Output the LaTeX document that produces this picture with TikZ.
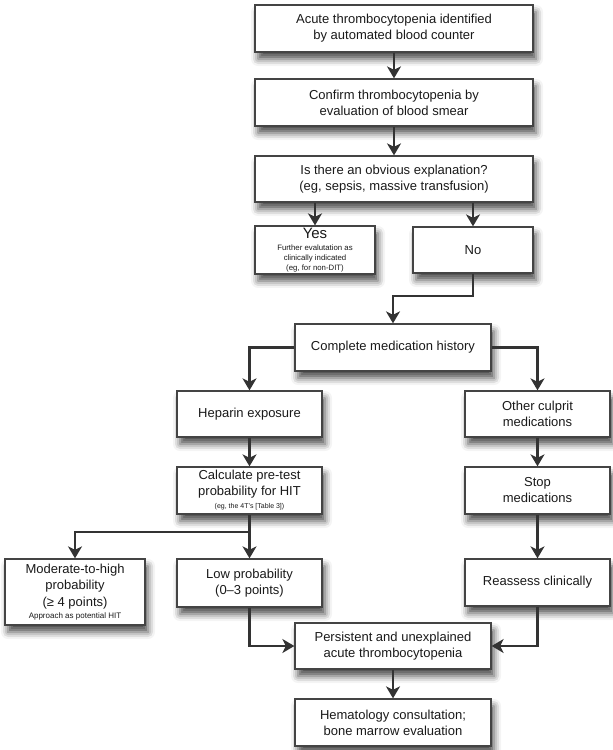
\documentclass[tikz,border=0pt]{standalone}
\usepackage{fontspec}
\setmainfont{Liberation Sans}
\usetikzlibrary{arrows.meta,shadows.blur,calc}
\definecolor{lin}{HTML}{333333}
\definecolor{bord}{HTML}{444444}
\definecolor{txt}{HTML}{1A1A1A}
\tikzset{
  box/.style={draw=bord, line width=1.3pt, fill=white, align=center, text=txt,
    inner sep=2pt, font=\fontsize{13}{16}\selectfont,
    blur shadow={shadow xshift=3pt, shadow yshift=-7pt, shadow blur radius=7pt, shadow opacity=70}},
  arr/.style={draw=lin, line width=2.8pt, -{Stealth[length=12pt,width=14pt,inset=3.5pt]}},
}
\newcommand{\smalltxt}{\fontsize{7.8}{9.5}\selectfont}
\begin{document}
\begin{tikzpicture}[x=1pt,y=-1pt]
\useasboundingbox (0,0) rectangle (613,750);
\node[box, minimum width=278pt, minimum height=47pt] (b1) at (394,28.5) {Acute thrombocytopenia identified\\by automated blood counter};
\node[box, minimum width=278pt, minimum height=47pt] (b2) at (394,102.5) {Confirm thrombocytopenia by\\evaluation of blood smear};
\node[box, minimum width=278pt, minimum height=46pt] (b3) at (394,179) {Is there an obvious explanation?\\(eg, sepsis, massive transfusion)};
\node[box, minimum width=120pt, minimum height=46pt, font=\fontsize{15}{14}\selectfont] (yes) at (315,250) {Yes\\[-2pt]{\smalltxt Further evalutation as}\\[-4pt]{\smalltxt clinically indicated}\\[-4pt]{\smalltxt (eg, for non-DIT)}};
\node[box, minimum width=120pt, minimum height=46pt] (no) at (473,250) {No};
\node[box, minimum width=196pt, minimum height=47pt] (comp) at (393,347.5) {Complete medication history};
\node[box, minimum width=145pt, minimum height=46pt] (hep) at (249.5,414) {Heparin exposure};
\node[box, minimum width=145pt, minimum height=46pt] (oth) at (537.5,414) {Other culprit\\medications};
\node[box, minimum width=145pt, minimum height=47pt] (calc) at (249.5,490.5) {Calculate pre-test\\probability for HIT\\[-3pt]{\fontsize{7}{8}\selectfont (eg, the 4T's [Table 3])}};
\node[box, minimum width=145pt, minimum height=47pt] (stop) at (537.5,490.5) {Stop\\medications};
\node[box, minimum width=140pt, minimum height=66pt, font=\fontsize{13}{16.5}\selectfont] (mod) at (75,592) {Moderate-to-high\\probability\\(≥ 4 points)\\[-4pt]{\fontsize{8}{9.5}\selectfont Approach as potential HIT}};
\node[box, minimum width=145pt, minimum height=48pt] (low) at (249.5,583) {Low probability\\(0–3 points)};
\node[box, minimum width=145pt, minimum height=47pt] (reas) at (537.5,582.5) {Reassess clinically};
\node[box, minimum width=196pt, minimum height=46pt] (pers) at (393,646) {Persistent and unexplained\\acute thrombocytopenia};
\node[box, minimum width=196pt, minimum height=47pt] (hema) at (393,722.5) {Hematology consultation;\\bone marrow evaluation};
\coordinate (j1) at (393,296);
\coordinate (j2) at (249.5,532);
\draw[arr] (b1) -- (b2);
\draw[arr] (b2) -- (b3);
\draw[arr] (b3.south -| yes.north) -- (yes.north);
\draw[arr] (b3.south -| no.north) -- (no.north);
\draw[arr] (no.south) |- (j1) -- (comp.north);
\draw[arr] (comp.west) -| (hep.north);
\draw[arr] (comp.east) -| (oth.north);
\draw[arr] (hep) -- (calc);
\draw[arr] (oth) -- (stop);
\draw[arr] (stop) -- (reas);
\draw[arr] (calc) -- (low);
\draw[arr] (j2) -| (mod.north);
\draw[arr] (low.south) |- (pers.west);
\draw[arr] (reas.south) |- (pers.east);
\draw[arr] (pers) -- (hema);
\end{tikzpicture}
\end{document}
